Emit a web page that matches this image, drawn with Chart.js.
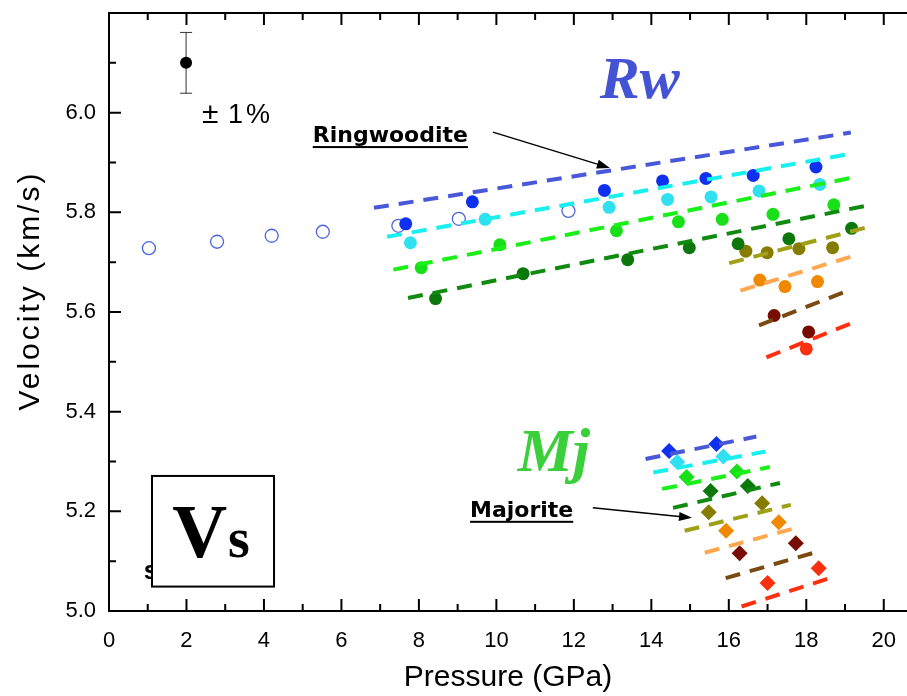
<!DOCTYPE html>
<html>
<head>
<meta charset="utf-8">
<title>Vs - pressure</title>
<script src="https://cdn.jsdelivr.net/npm/chart.js@4.4.1/dist/chart.umd.min.js"></script>
<style>
  html, body { margin: 0; padding: 0; background: #fff; overflow: hidden; }
  canvas { display: block; }
</style>
</head>
<body>
<canvas id="vs" width="907" height="696"></canvas>
<script>
// Pressure (GPa) and Vs (km/s). One row per composition, blue -> red.
const rwPressure = [
  [7.66, 9.38, 12.79, 14.29, 15.41, 16.63, 18.25],
  [7.78, 9.71, 12.91, 14.42, 15.54, 16.78, 18.35],
  [8.06, 10.09, 13.10, 14.70, 15.83, 17.14, 18.71],
  [8.43, 10.69, 13.39, 14.98, 16.24, 17.55, 19.17],
  [16.44, 16.99, 17.81, 18.68],
  [16.80, 17.45, 18.29],
  [17.17, 18.06],
  [18.00]
];
const rwVelocity = [
  [5.777, 5.821, 5.844, 5.863, 5.868, 5.874, 5.891],
  [5.739, 5.786, 5.810, 5.826, 5.831, 5.843, 5.856],
  [5.689, 5.735, 5.763, 5.781, 5.786, 5.796, 5.815],
  [5.627, 5.677, 5.705, 5.729, 5.737, 5.747, 5.768],
  [5.722, 5.719, 5.727, 5.729],
  [5.664, 5.651, 5.661],
  [5.593, 5.560],
  [5.526]
];
// fitted trends, start and end
const rwFitP = [
  [6.84, 19.15], [7.18, 19.11], [7.34, 19.21], [7.72, 19.53],
  [16.01, 19.62], [16.30, 19.28], [16.78, 19.08], [16.97, 19.28]
];
const rwFitV = [
  [5.809, 5.960], [5.751, 5.917], [5.685, 5.870], [5.628, 5.813],
  [5.698, 5.771], [5.643, 5.714], [5.573, 5.643], [5.509, 5.581]
];

const mjPressure = [
  [14.46, 15.68], [14.67, 15.86], [14.91, 16.21], [15.53, 16.49],
  [15.48, 16.86], [15.93, 17.29], [16.28, 17.73], [17.00, 18.32]
];
const mjVelocity = [
  [5.321, 5.335], [5.299, 5.310], [5.269, 5.280], [5.241, 5.251],
  [5.198, 5.216], [5.161, 5.178], [5.116, 5.136], [5.056, 5.086]
];
const mjFitP = [
  [13.85, 16.71], [14.05, 16.95], [14.28, 17.06], [14.56, 17.32],
  [14.86, 17.60], [15.38, 17.75], [15.92, 18.29], [16.33, 18.65]
];
const mjFitV = [
  [5.305, 5.350], [5.278, 5.320], [5.245, 5.289], [5.207, 5.257],
  [5.161, 5.213], [5.117, 5.167], [5.066, 5.119], [5.009, 5.067]
];

// earlier ringwoodite run (open symbols)
const openP = [1.03, 2.79, 4.20, 5.52, 7.47, 9.03, 11.86];
const openV = [5.728, 5.741, 5.753, 5.761, 5.773, 5.787, 5.803];

// typical uncertainty marker
const refP = [1.99];
const refV = [6.10];
const refErr = 0.061;

const markColors = ['#1030f0', '#30e0f0', '#18e018', '#0c780c', '#857c00', '#f08800', '#780c00', '#f83010'];
const fitColors = ['#4858d8', '#18f0f0', '#18f018', '#108a10', '#a0a018', '#ffa850', '#7a4a10', '#ff3010'];

const pts = (xs, ys) => xs.map((x, i) => ({ x, y: ys[i] }));

const datasets = [];

// dashed fits sit on top of the symbols
[[rwFitP, rwFitV], [mjFitP, mjFitV]].forEach(([ps, vs]) => {
  ps.forEach((p, i) => datasets.push({
    data: pts(p, vs[i]),
    showLine: true,
    borderColor: fitColors[i],
    borderWidth: 4,
    borderDash: [15, 10],
    pointRadius: 0,
    order: 0
  }));
});

rwPressure.forEach((p, i) => datasets.push({
  data: pts(p, rwVelocity[i]),
  pointStyle: 'circle',
  pointRadius: 6.5,
  backgroundColor: markColors[i],
  borderWidth: 0,
  order: 1
}));

mjPressure.forEach((p, i) => datasets.push({
  data: pts(p, mjVelocity[i]),
  pointStyle: 'rectRot',
  pointRadius: 8,
  backgroundColor: markColors[i],
  borderWidth: 0,
  order: 1
}));

datasets.push({
  data: pts(openP, openV),
  pointStyle: 'circle',
  pointRadius: 6.5,
  backgroundColor: 'rgba(0,0,0,0)',
  borderColor: '#4a64e0',
  borderWidth: 1.3,
  order: 2
});

// error bar with caps
datasets.push({
  data: [{ x: refP[0], y: refV[0] - refErr }, { x: refP[0], y: refV[0] + refErr }],
  showLine: true,
  borderColor: '#333',
  borderWidth: 1,
  pointStyle: 'line',
  pointRadius: 6,
  pointBorderColor: '#333',
  pointBorderWidth: 1,
  order: 1
});
datasets.push({
  data: pts(refP, refV),
  pointStyle: 'circle',
  pointRadius: 6,
  backgroundColor: '#000',
  borderWidth: 0,
  order: 0
});

// inward ticks on all drawn sides, plus the top frame line
const frameTicks = {
  id: 'frameTicks',
  afterDraw(chart) {
    const { ctx, chartArea: a, scales: { x, y } } = chart;
    ctx.save();
    ctx.strokeStyle = '#000';
    ctx.lineWidth = 2;
    ctx.beginPath();
    ctx.moveTo(a.left - 1, a.top);
    ctx.lineTo(a.right, a.top);
    for (let p = 0; p <= 20; p++) {
      const px = x.getPixelForValue(p);
      const len = p % 2 === 0 ? 12 : 7;
      ctx.moveTo(px, a.bottom);
      ctx.lineTo(px, a.bottom - len);
      ctx.moveTo(px, a.top);
      ctx.lineTo(px, a.top + len);
    }
    for (let k = 0; k <= 12; k++) {
      const py = y.getPixelForValue(5 + k / 10);
      const len = k % 2 === 0 ? 12 : 7;
      ctx.moveTo(a.left, py);
      ctx.lineTo(a.left + len, py);
    }
    ctx.stroke();

    // vertical axis title, sits a little above the axis middle
    ctx.translate(31, y.getPixelForValue(5.643));
    ctx.rotate(-Math.PI / 2);
    ctx.font = '30px "Liberation Sans"';
    ctx.letterSpacing = '3px';
    ctx.fillStyle = '#000';
    ctx.textAlign = 'center';
    ctx.textBaseline = 'middle';
    ctx.fillText('Velocity (km/s)', 0, 0);
    ctx.restore();
  }
};

const notes = {
  id: 'notes',
  afterDraw(chart) {
    const { ctx, scales: { x, y } } = chart;
    const at = (p, v) => [x.getPixelForValue(p), y.getPixelForValue(v)];

    const text = (str, p, v, font, color) => {
      const [px, py] = at(p, v);
      ctx.font = font;
      ctx.fillStyle = color;
      ctx.textAlign = 'left';
      ctx.textBaseline = 'alphabetic';
      ctx.fillText(str, px, py);
      return [px, py, ctx.measureText(str).width];
    };

    const underlined = (str, p, v) => {
      const [px, py, w] = text(str, p, v, 'bold 22px "DejaVu Sans"', '#000');
      ctx.fillRect(px, py + 4, w, 2);
    };

    const arrow = (p0, v0, p1, v1) => {
      const [x0, y0] = at(p0, v0);
      const [x1, y1] = at(p1, v1);
      const ang = Math.atan2(y1 - y0, x1 - x0);
      ctx.strokeStyle = '#000';
      ctx.lineWidth = 1.5;
      ctx.beginPath();
      ctx.moveTo(x0, y0);
      ctx.lineTo(x1 - 8 * Math.cos(ang), y1 - 8 * Math.sin(ang));
      ctx.stroke();
      ctx.fillStyle = '#000';
      ctx.beginPath();
      ctx.moveTo(x1, y1);
      ctx.lineTo(x1 - 13 * Math.cos(ang) + 4.5 * Math.sin(ang), y1 - 13 * Math.sin(ang) - 4.5 * Math.cos(ang));
      ctx.lineTo(x1 - 13 * Math.cos(ang) - 4.5 * Math.sin(ang), y1 - 13 * Math.sin(ang) + 4.5 * Math.cos(ang));
      ctx.closePath();
      ctx.fill();
    };

    ctx.save();

    text('±', 2.40, 5.980, '30px "Liberation Sans"', '#000');
    ctx.letterSpacing = '3px';
    text('1%', 3.07, 5.980, '27px "Liberation Sans"', '#000');
    ctx.letterSpacing = '0px';

    text('Rw', 12.67, 6.029, 'italic bold 60px "Liberation Serif"', '#4452d4');
    underlined('Ringwoodite', 5.26, 5.941);
    arrow(9.91, 5.961, 12.93, 5.889);

    text('Mj', 10.55, 5.281, 'italic bold 62px "Liberation Serif"', '#3ccf3c');
    underlined('Majorite', 9.32, 5.189);
    arrow(12.49, 5.207, 15.05, 5.187);

    // a stray glyph half hidden behind the Vs box
    text('s', 0.90, 5.064, 'bold 26px "Liberation Sans"', '#000');

    const [bx0, by0] = at(1.11, 5.271);
    const [bx1, by1] = at(4.26, 5.049);
    ctx.fillStyle = '#fff';
    ctx.fillRect(bx0, by0, bx1 - bx0, by1 - by0);
    ctx.strokeStyle = '#000';
    ctx.lineWidth = 2;
    ctx.strokeRect(bx0, by0, bx1 - bx0, by1 - by0);
    text('V', 1.63, 5.109, 'bold 76px "Liberation Serif"', '#000');
    text('s', 3.07, 5.109, 'bold 56px "Liberation Serif"', '#000');

    ctx.restore();
  }
};

const tickFont = { family: 'Liberation Sans', size: 22 };
const titleFont = { family: 'Liberation Sans', size: 30, lineHeight: 1 };

new Chart(document.getElementById('vs'), {
  type: 'scatter',
  data: { datasets },
  options: {
    responsive: false,
    animation: false,
    devicePixelRatio: 1,
    layout: { autoPadding: false, padding: { top: 13, left: 0, right: 0, bottom: 0 } },
    plugins: {
      legend: { display: false },
      tooltip: { enabled: false }
    },
    scales: {
      x: {
        type: 'linear',
        min: 0,
        max: 20.6,
        afterFit: s => {
          s.height = 85;
          s.paddingLeft = 0;
          s.paddingRight = 0;
        },
        grid: { display: false, drawTicks: false },
        border: { display: true, color: '#000', width: 2 },
        ticks: {
          stepSize: 2,
          includeBounds: false,
          autoSkip: false,
          maxRotation: 0,
          padding: 17,
          color: '#000',
          font: tickFont,
          callback: v => (v <= 20 ? String(v) : '')
        },
        title: {
          display: true,
          text: 'Pressure (GPa)',
          color: '#000',
          font: titleFont,
          padding: { top: 0, bottom: 3 }
        }
      },
      y: {
        type: 'linear',
        min: 5.0,
        max: 6.2,
        afterFit: s => {
          s.width = 109;
          s.paddingTop = 0;
          s.paddingBottom = 0;
        },
        grid: { display: false, drawTicks: false },
        border: { display: true, color: '#000', width: 2 },
        ticks: {
          stepSize: 0.2,
          autoSkip: false,
          padding: 13,
          color: '#000',
          font: tickFont,
          callback: v => (v < 6.1 ? v.toFixed(1) : '')
        }
      }
    }
  },
  plugins: [frameTicks, notes]
});
</script>
</body>
</html>
